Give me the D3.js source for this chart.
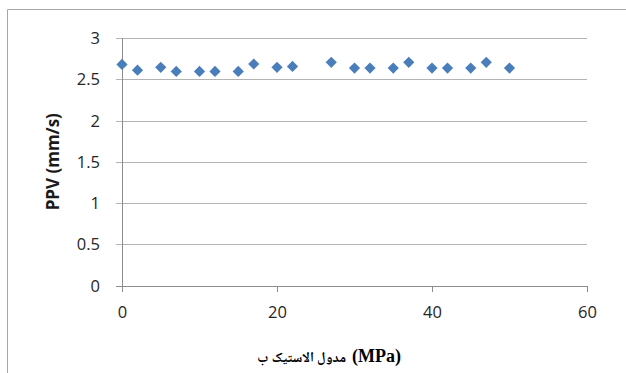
<!DOCTYPE html>
<html>
<head>
<meta charset="utf-8">
<script src="https://cdn.jsdelivr.net/npm/d3@7"></script>
<style>
  html, body { margin: 0; padding: 0; background: #fff; }
  svg { display: block; }
</style>
</head>
<body>
<div id="chart"></div>
<script>
// Elastic modulus (MPa) against peak particle velocity (mm/s)
const modulus = [0, 2, 5, 7, 10, 12, 15, 17, 20, 22, 27, 30, 32, 35, 37, 40, 42, 45, 47, 50];
const ppv = [2.68, 2.61, 2.645, 2.595, 2.595, 2.595, 2.595, 2.685, 2.645, 2.655, 2.705,
             2.635, 2.635, 2.635, 2.705, 2.635, 2.635, 2.635, 2.705, 2.635];
const xTicks = [0, 20, 40, 60];
const yTicks = [0, 0.5, 1, 1.5, 2, 2.5, 3];
// x-axis title: Persian text followed by the unit
const xTitleParts = ["مدول الاستیک ب", "(MPa)"];
const yTitle = "PPV (mm/s)";

const W = 626, H = 373;
const svg = d3.select("#chart").append("svg").attr("width", W).attr("height", H);

// chart frame (top and left edges visible)
svg.append("path")
  .attr("d", "M7.5,373 L7.5,9.5 L626,9.5")
  .attr("fill", "none").attr("stroke", "#a6a6a6").attr("stroke-width", 1);

const x = d3.scaleLinear().domain([0, 60]).range([122, 587]);
const y = d3.scaleLinear().domain([0, 3]).range([285.5, 38]);

const gridColor = "#b3b3b3";
const axisColor = "#8c8c8c";
const tickFont = "'Open Sans', 'Noto Sans', sans-serif";
const tickSize = 16.5;

// horizontal gridlines, with their small tick stubs left of the axis
const yAxis = d3.axisLeft(y).tickValues(yTicks).tickSize(0).tickPadding(10)
  .tickFormat(d3.format("~g"));
const gy = svg.append("g").attr("transform", `translate(${x(0)},0)`).call(yAxis);
gy.select(".domain").remove();
gy.selectAll(".tick").append("line")
  .attr("x1", -6).attr("x2", x(60) - x(0))
  .attr("stroke", d => d === 0 ? axisColor : gridColor).attr("stroke-width", 1)
  .attr("shape-rendering", "crispEdges");
gy.selectAll(".tick text")
  .attr("x", -22).attr("dy", "0.34em")
  .attr("font-family", tickFont).attr("font-size", tickSize).attr("fill", "#262626");

// vertical axis line
svg.append("line")
  .attr("x1", x(0)).attr("x2", x(0)).attr("y1", y(3)).attr("y2", y(0) + 6)
  .attr("stroke", axisColor).attr("stroke-width", 1)
  .attr("shape-rendering", "crispEdges");

// x axis ticks and labels
const xAxis = d3.axisBottom(x).tickValues(xTicks).tickSize(6).tickPadding(15)
  .tickFormat(d3.format("d"));
const gx = svg.append("g").attr("transform", `translate(0,${y(0)})`).call(xAxis);
gx.select(".domain").remove();
gx.selectAll(".tick line").attr("stroke", axisColor).attr("shape-rendering", "crispEdges");
gx.selectAll(".tick text")
  .attr("font-family", tickFont).attr("font-size", tickSize).attr("fill", "#262626");

// data markers (diamonds)
const diamond = d3.symbol().type(d3.symbolDiamond2).size(80);
svg.append("g").selectAll("path")
  .data(modulus.map((m, i) => ({ m, v: ppv[i] })))
  .join("path")
  .attr("d", diamond)
  .attr("transform", d => `translate(${x(d.m)},${y(d.v)})`)
  .attr("fill", "#4a7ebb");

// y axis title
svg.append("text")
  .attr("transform", `translate(53,${(y(0) + y(3)) / 2}) rotate(-90)`)
  .attr("text-anchor", "middle").attr("dy", "0.35em")
  .attr("font-family", tickFont).attr("font-weight", "bold").attr("font-size", 17)
  .attr("fill", "#1a1a1a")
  .text(yTitle);

// x axis title: Persian phrase, then the unit to its right
const titleRight = 401, titleBase = 362, gap = 6;
const unit = svg.append("text")
  .attr("x", titleRight).attr("y", titleBase)
  .attr("text-anchor", "end")
  .attr("font-family", "'Liberation Serif', serif")
  .attr("font-weight", "bold").attr("font-size", 18).attr("fill", "#000")
  .text(xTitleParts[1]);
const unitW = unit.node().getComputedTextLength();
const phrase = svg.append("text")
  .attr("y", titleBase)
  .attr("font-family", "'Noto Naskh Arabic', 'Noto Sans Arabic', 'DejaVu Sans', serif")
  .attr("font-weight", "bold").attr("font-size", 14).attr("fill", "#000")
  .text(xTitleParts[0]);
const phraseW = phrase.node().getComputedTextLength();
phrase.attr("x", titleRight - unitW - gap - phraseW);
</script>
</body>
</html>
